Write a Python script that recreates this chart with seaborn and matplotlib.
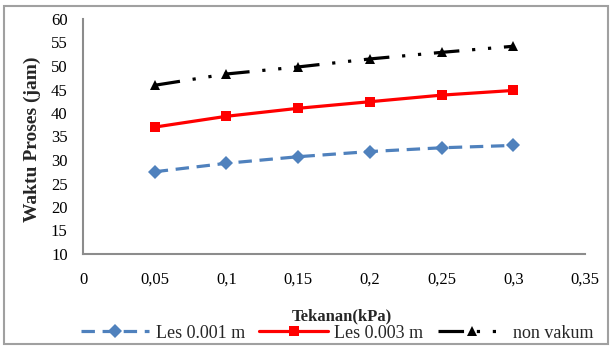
import matplotlib
matplotlib.use("Agg")
import matplotlib.pyplot as plt
import seaborn as sns
import pandas as pd
from matplotlib.patches import Rectangle

# ---- data ----
tekanan = [0.05, 0.10, 0.15, 0.20, 0.25, 0.30]
les_0001 = [27.5, 29.3, 30.7, 31.8, 32.6, 33.1]
les_0003 = [37.0, 39.3, 41.0, 42.4, 43.8, 44.8]
non_vakum = [45.9, 48.3, 49.8, 51.5, 52.9, 54.2]
series_names = ["Les 0.001 m", "Les 0.003 m", "non vakum"]
x_ticks = [0, 0.05, 0.10, 0.15, 0.20, 0.25, 0.30, 0.35]
x_tick_labels = ["0", "0,05", "0,1", "0,15", "0,2", "0,25", "0,3", "0,35"]
y_ticks = [10, 15, 20, 25, 30, 35, 40, 45, 50, 55, 60]
x_label = "Tekanan(kPa)"
y_label = "Waktu Proses (jam)"

sns.set_theme(style="white")
plt.rcParams["font.family"] = ["Liberation Serif", "DejaVu Serif"]

fig = plt.figure(figsize=(6.12, 3.47), dpi=100)
ax = fig.add_axes([83 / 612, 1 - 254 / 347, (585 - 83) / 612, (254 - 19) / 347])

styles = [
    dict(color="#4F81BD", marker="D", markersize=7, linewidth=2.3,
         linestyle=(0, (4.2, 2.4))),
    dict(color="#FF0000", marker="s", markersize=7, linewidth=2.3,
         linestyle="-"),
    dict(color="#000000", marker="^", markersize=7, linewidth=2.3,
         linestyle=(0, (8, 4, 1, 4, 1, 4))),
]
for name, vals, st in zip(series_names, [les_0001, les_0003, non_vakum], styles):
    df = pd.DataFrame({"x": tekanan, "y": vals})
    sns.lineplot(data=df, x="x", y="y", ax=ax, label=name,
                 markeredgewidth=0, **st)

ax.set_xlim(0, 0.35)
ax.set_ylim(10, 60)
ax.set_xticks(x_ticks)
ax.set_xticklabels(x_tick_labels)
ax.set_yticks(y_ticks)
ax.tick_params(axis="both", length=0, labelsize=12, colors="black")
ax.tick_params(axis="x", pad=13)
ax.tick_params(axis="y", pad=11)
for s in ["top", "right"]:
    ax.spines[s].set_visible(False)
for s in ["left", "bottom"]:
    ax.spines[s].set_color("#8C8C8C")
    ax.spines[s].set_linewidth(1.5)
ax.grid(False)
ax.set_xlabel("")
ax.set_ylabel("")

fig.text(32 / 612, 1 - 139 / 347, y_label, rotation=90, ha="center", va="center",
         fontsize=14, fontweight="bold")
fig.text(342 / 612, 1 - 316 / 347, x_label, ha="center", va="center",
         fontsize=12, fontweight="bold")

leg = ax.legend(loc="center", bbox_to_anchor=(337 / 612, 1 - 333 / 347),
                bbox_transform=fig.transFigure, ncol=3, frameon=False,
                fontsize=13, handlelength=3.8, columnspacing=0.8,
                handletextpad=0.35, borderpad=0)

fig.patches.append(Rectangle((4 / 612, 3 / 347), 604 / 612, 338 / 347,
                             transform=fig.transFigure, fill=False,
                             edgecolor="#A0A0A0", linewidth=1.5))

fig.savefig("out.png", dpi=100)
